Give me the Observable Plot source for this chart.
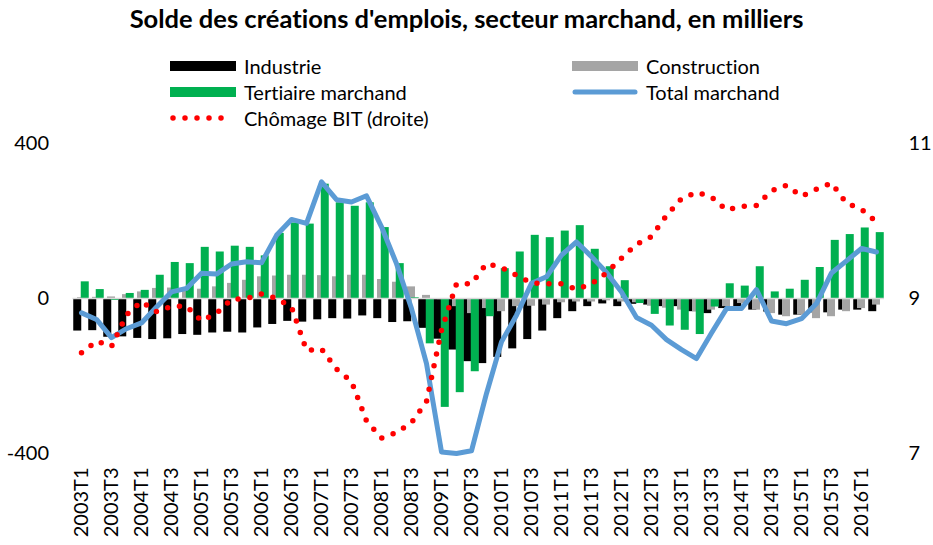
<!DOCTYPE html>
<html>
<head>
<meta charset="utf-8">
<script src="https://cdn.jsdelivr.net/npm/d3@7"></script>
<script src="https://cdn.jsdelivr.net/npm/@observablehq/plot@0.6"></script>
<style>
  body { margin: 0; background: #fff; font-family: Lato, "Open Sans", sans-serif; font-variant-ligatures: none; font-feature-settings: "liga" 0; }
  #chart { position: relative; width: 933px; height: 545px; overflow: hidden; }
  #title { position: absolute; top: 0; left: 0; width: 933px; text-align: center; font-weight: 700; font-size: 25.5px; line-height: 36px; color: #000; white-space: nowrap; }
  .leg { position: absolute; display: flex; align-items: center; font-size: 20px; color: #000; height: 26px; white-space: nowrap; }
  .leg svg { margin-right: 8px; }
  #plot { position: absolute; top: 130px; left: 0; }
  #plot svg text { font-variant-ligatures: none; }
</style>
</head>
<body>
<div id="chart">
  <div id="title">Solde des créations d'emplois, secteur marchand, en milliers</div>
  <div class="leg" style="left:170px;top:53px"><svg width="66" height="26"><rect x="0" y="8" width="66" height="10" fill="#000000"/></svg>Industrie</div>
  <div class="leg" style="left:572px;top:53px"><svg width="66" height="26"><rect x="0" y="8" width="66" height="10" fill="#A5A5A5"/></svg>Construction</div>
  <div class="leg" style="left:170px;top:79px"><svg width="66" height="26"><rect x="0" y="8" width="66" height="10" fill="#00B050"/></svg>Tertiaire marchand</div>
  <div class="leg" style="left:572px;top:79px"><svg width="66" height="26"><line x1="3" y1="13" x2="63" y2="13" stroke="#5B9BD5" stroke-width="5" stroke-linecap="round"/></svg>Total marchand</div>
  <div class="leg" style="left:170px;top:105px"><svg width="66" height="26"><line x1="3" y1="13" x2="63" y2="13" stroke="#FF0000" stroke-width="5.5" stroke-linecap="round" stroke-dasharray="0,12"/></svg>Chômage BIT (droite)</div>
  <div id="plot"></div>
</div>
<script>
const quarters = [
  "2003T1","2003T2","2003T3","2003T4","2004T1","2004T2","2004T3","2004T4",
  "2005T1","2005T2","2005T3","2005T4","2006T1","2006T2","2006T3","2006T4",
  "2007T1","2007T2","2007T3","2007T4","2008T1","2008T2","2008T3","2008T4",
  "2009T1","2009T2","2009T3","2009T4","2010T1","2010T2","2010T3","2010T4",
  "2011T1","2011T2","2011T3","2011T4","2012T1","2012T2","2012T3","2012T4",
  "2013T1","2013T2","2013T3","2013T4","2014T1","2014T2","2014T3","2014T4",
  "2015T1","2015T2","2015T3","2015T4","2016T1","2016T2"
];
const xTickLabels = [
  "2003T1","2003T3","2004T1","2004T3","2005T1","2005T3","2006T1","2006T3",
  "2007T1","2007T3","2008T1","2008T3","2009T1","2009T3","2010T1","2010T3",
  "2011T1","2011T3","2012T1","2012T3","2013T1","2013T3","2014T1","2014T3",
  "2015T1","2015T3","2016T1"
];
const leftTicks = [-400, 0, 400];
const rightTicks = [7, 9, 11];

const industrie = [
  -84,-83,-100,-99,-103,-106,-104,-93,
  -95,-89,-87,-89,-76,-67,-59,-61,
  -55,-52,-53,-45,-52,-62,-60,-77,
  -105,-133,-163,-168,-152,-130,-106,-84,
  -52,-34,-21,-14,-21,-15,-17,-21,
  -21,-34,-39,-26,-30,-30,-35,-43,
  -43,-37,-37,-30,-30,-34
];
const construction = [
  2,3,4,10,17,26,27,25,
  24,30,39,47,56,58,60,60,
  59,56,60,60,49,42,30,8,
  -3,-21,-39,-26,-34,-21,-20,-17,
  -11,-9,-9,-6,-9,-11,-20,-25,
  -30,-34,-30,-21,-13,-30,-39,-47,
  -43,-52,-47,-34,-26,-17
];
const tertiaire = [
  43,23,-5,13,21,60,93,90,
  132,120,135,132,110,168,195,192,
  295,247,238,247,183,90,2,-117,
  -281,-243,-189,-47,77,120,163,157,
  174,188,127,82,46,-13,-41,-71,
  -82,-93,-22,38,32,82,17,24,
  47,80,150,165,182,170
];
const totalMarchand = [
  -37,-54,-101,-78,-63,-22,17,26,
  65,63,89,95,92,163,204,194,
  301,255,249,265,185,90,-26,-168,
  -396,-400,-393,-245,-112,-43,39,56,
  112,146,108,67,17,-49,-69,-106,
  -132,-155,-89,-26,-26,23,-58,-65,
  -52,-13,66,97,129,120
];
const chomage = [
  8.30,8.45,8.38,8.79,8.96,8.83,8.90,8.90,
  8.71,8.81,8.99,9.00,9.06,9.00,8.89,8.33,
  8.35,8.09,7.93,7.42,7.20,7.27,7.40,7.67,
  8.59,9.19,9.19,9.45,9.40,9.30,9.20,9.19,
  9.19,9.12,9.19,9.33,9.52,9.70,9.80,10.07,
  10.29,10.37,10.31,10.14,10.19,10.20,10.39,10.46,
  10.32,10.41,10.49,10.23,10.15,9.99
];

// right axis (chômage, %) mapped onto the left scale: 9 -> 0, 11 -> 400, 7 -> -400
const toLeft = (r) => (r - 9) * 200;
const fromLeft = (v) => 9 + v / 200;

const rows = quarters.map((q, i) => ({
  q,
  industrie: industrie[i],
  construction: construction[i],
  tertiaire: tertiaire[i],
  total: totalMarchand[i],
  chomage: toLeft(chomage[i])
}));

const plot = Plot.plot({
  width: 933,
  height: 415,
  marginTop: 13,
  marginBottom: 92,
  marginLeft: 72.5,
  marginRight: 49,
  style: { fontFamily: "Lato, 'Open Sans', sans-serif", fontSize: "20px", color: "#000", background: "transparent" },
  x: { type: "band", domain: quarters, paddingInner: 0.5, paddingOuter: 0.25, axis: null },
  y: { domain: [-400, 400], axis: null },
  marks: [
    Plot.barY(rows, { x: "q", y: "industrie", fill: "#000000", dx: -3.75 }),
    Plot.barY(rows, { x: "q", y: "construction", fill: "#A5A5A5", dx: 0 }),
    Plot.barY(rows, { x: "q", y: "tertiaire", fill: "#00B050", dx: 3.75 }),
    Plot.ruleY([0], { stroke: "#D9D9D9", strokeWidth: 1.5 }),
    Plot.line(rows, { x: "q", y: "total", stroke: "#5B9BD5", strokeWidth: 5, strokeLinejoin: "round", strokeLinecap: "round" }),
    Plot.line(rows, { x: "q", y: "chomage", stroke: "#FF0000", strokeWidth: 5.5, strokeLinecap: "round", strokeDasharray: "0,12" }),
    Plot.axisY({ anchor: "left", ticks: leftTicks, tickSize: 0, tickPadding: 24, tickFormat: (d) => String(d), fontSize: 20, label: null }),
    Plot.axisY({ anchor: "right", ticks: rightTicks.map(toLeft), tickSize: 0, tickPadding: 24, tickFormat: (d) => String(fromLeft(d)), fontSize: 20, label: null }),
    Plot.axisX({ ticks: xTickLabels, tickSize: 0, tickPadding: 14, tickRotate: -90, fontSize: 20, label: null })
  ]
});
document.getElementById("plot").appendChild(plot);
</script>
</body>
</html>
